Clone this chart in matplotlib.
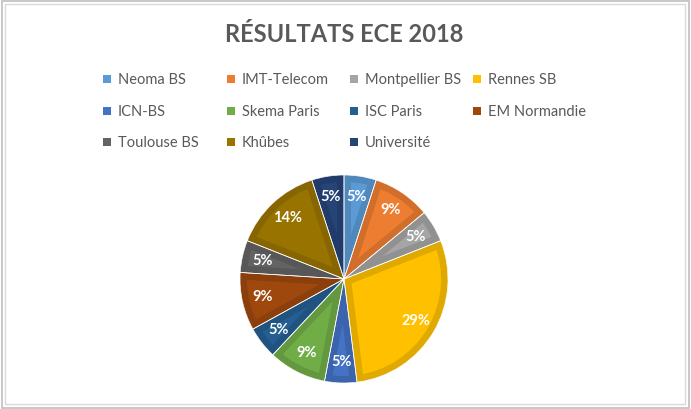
import numpy as np
import matplotlib.pyplot as plt
from matplotlib.patches import Rectangle
import matplotlib.colors as mcolors

# data
ecoles = ["Neoma BS", "IMT-Telecom", "Montpellier BS", "Rennes SB", "ICN-BS",
          "Skema Paris", "ISC Paris", "EM Normandie", "Toulouse BS", "Khûbes",
          "Université"]
pourcents = [5, 9, 5, 29, 5, 9, 5, 9, 5, 14, 5]
couleurs = ["#5B9BD5", "#ED7D31", "#A5A5A5", "#FFC000", "#4472C4", "#70AD47",
            "#255E91", "#9E480E", "#636363", "#997300", "#264478"]

plt.rcParams['font.family'] = ['Lato', 'DejaVu Sans']

W, H = 691, 409
fig = plt.figure(figsize=(W / 100, H / 100), dpi=100)

# pie: centre (344, 279), radius 104 px
cx, cy, r = 344, 279, 104
ax = fig.add_axes([(cx - r) / W, (H - cy - r) / H, 2 * r / W, 2 * r / H])

def plus_sombre(c, f=0.88):
    rgb = np.array(mcolors.to_rgb(c))
    return tuple(rgb * f)

wedges, texts, autotexts = ax.pie(pourcents, colors=couleurs, startangle=90,
                                  counterclock=False, autopct='%1.0f%%',
                                  pctdistance=0.8,
                                  textprops=dict(color='white', fontsize=10.5,
                                                 fontweight='bold'))
for w, c in zip(wedges, couleurs):
    w.set_edgecolor(plus_sombre(c))
    w.set_linewidth(10)
    w.set_joinstyle('round')
    # keep the border inside the slice
    w.set_clip_on(True)
    w.set_clip_path(w)

# thin white separators
ax.pie(pourcents, colors=['none'] * len(pourcents), startangle=90,
       counterclock=False,
       wedgeprops=dict(edgecolor='white', linewidth=0.5))
ax.set_xlim(-1, 1)
ax.set_ylim(-1, 1)
ax.set_aspect('equal')
ax.axis('off')

# title
fig.text(cx / W, 1 - 42 / H, "RÉSULTATS ECE 2018", ha='center', va='baseline',
         fontsize=17, fontweight='bold', color='#595959')

# legend (Excel style, 4 columns)
col_x = [103, 227, 350, 473]
row_base = [84, 116, 147]
for i, (nom, c) in enumerate(zip(ecoles, couleurs)):
    x = col_x[i % 4]
    yb = row_base[i // 4]
    fig.patches.append(Rectangle((x / W, 1 - (yb - 1) / H), 8 / W, 8 / H,
                                 transform=fig.transFigure, facecolor=c,
                                 edgecolor='none'))
    fig.text((x + 15) / W, 1 - yb / H, nom, ha='left', va='baseline',
             fontsize=10.5, color='#595959')

# chart frame
fig.patches.append(Rectangle((2 / W, 1 - 408 / H), 687 / W, 407 / H,
                             transform=fig.transFigure, fill=False,
                             edgecolor='#BFBFBF', linewidth=1.2))
fig.patches.append(Rectangle((5 / W, 1 - 404 / H), 680 / W, 400 / H,
                             transform=fig.transFigure, fill=False,
                             edgecolor='#D9D9D9', linewidth=1))

fig.savefig("out.png", dpi=100)
